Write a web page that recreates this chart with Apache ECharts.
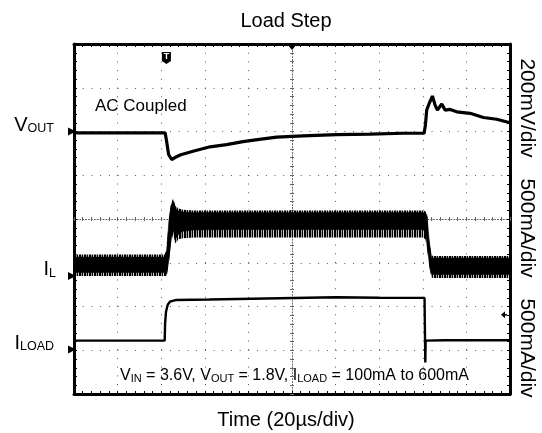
<!DOCTYPE html>
<html><head><meta charset="utf-8">
<script src="https://cdn.jsdelivr.net/npm/echarts@6/dist/echarts.min.js"></script>
<style>html,body{margin:0;padding:0;background:#fff}#c{width:542px;height:433px}</style>
</head><body><div id="c"></div>
<script>
// ---- data (time in µs, 20 µs/div) ----
// VOUT, AC coupled deviation in mV (200 mV/div)
const voutT  = [0, 20, 41.8, 42.4, 43.4, 44.8, 46.5, 49, 54.6, 62.4, 70, 77.5, 85, 93, 105, 120.5, 135.8, 151, 160.6, 161.2, 161.8, 163, 164.4, 165.6, 166.7, 168.7, 170.2, 172.5, 175.6, 181.7, 187.8, 193.9, 200];
const voutMV = [-6, -6, -6, -40, -105, -128, -118, -106, -90, -70, -60, -46, -36, -26, -20, -14, -12, -8, -8, 30, 98, 130, 162, 122, 98, 126, 98, 101, 90, 83, 64, 56, 40];
// Inductor current band in mA (500 mA/div): outer envelope and dense core
const ilT        = [0, 20, 41.6, 42.5, 43.5, 44.5, 45.5, 46.5, 48, 50, 55, 70, 100, 130, 150, 160, 161.2, 162, 163, 164, 165, 170, 185, 200];
const ilHigh     = [245, 245, 245, 300, 650, 820, 890, 800, 770, 755, 748, 748, 748, 748, 748, 748, 740, 700, 400, 232, 228, 228, 228, 228];
const ilLow      = [0, 0, 0, 0, 150, 380, 480, 370, 420, 430, 438, 438, 438, 438, 438, 438, 420, 300, 100, -20, -25, -25, -25, -25];
const ilCoreHigh = [215, 215, 215, 290, 620, 800, 860, 770, 745, 730, 725, 725, 725, 725, 725, 725, 720, 680, 380, 210, 205, 205, 205, 205];
const ilCoreLow  = [40, 40, 40, 20, 180, 420, 520, 420, 480, 510, 525, 530, 530, 530, 530, 530, 500, 360, 140, 20, 15, 15, 15, 15];
// Load current in mA (500 mA/div)
const iloadT  = [0, 20, 41.6, 41.8, 42.2, 43, 44, 47, 62, 94.5, 120, 140, 160.8, 161.0, 161.15, 161.3, 170, 200];
const iloadMA = [100, 100, 100, 300, 430, 510, 545, 565, 570, 585, 595, 590, 588, 588, -150, 100, 105, 105];

// channel settings (divisions / units per division)
const VOUT_OFFSET = 6, IL_OFFSET = 2.7, ILOAD_OFFSET = 1.02;
const VOUT_SCALE = 200, IL_SCALE = 500, ILOAD_SCALE = 500;
const TRIGGER_T = 42.4, TRIGGER_LEVEL = 1.81;

const FONT = '"Liberation Sans", Arial, Helvetica, sans-serif';
const chart = echarts.init(document.getElementById('c'));

function xAx(pos, o) {
  return Object.assign({
    type: 'value', min: 0, max: 200, interval: 20, position: pos, gridIndex: 0,
    axisLine: {show: true, onZero: false, lineStyle: {color: '#000', width: 3}},
    axisTick: {show: true, inside: true, length: 3, lineStyle: {color: '#000', width: 1}},
    minorTick: {show: true, splitNumber: 5, length: 3, lineStyle: {color: '#000', width: 1}},
    axisLabel: {show: false}, splitLine: {show: false}
  }, o || {});
}
function yAx(pos, o) {
  return Object.assign({
    type: 'value', min: 0, max: 8, interval: 1, position: pos, gridIndex: 0,
    axisLine: {show: true, onZero: false, lineStyle: {color: '#000', width: 3}},
    axisTick: {show: true, inside: true, length: 3, lineStyle: {color: '#000', width: 1}},
    minorTick: {show: true, splitNumber: 5, length: 3, lineStyle: {color: '#000', width: 1}},
    axisLabel: {show: false}, splitLine: {show: false}
  }, o || {});
}
const dotted = {show: true, lineStyle: {color: '#555', width: 1, type: [1, 7.72]}};
const centerLine = {show: true, onZero: false, lineStyle: {color: '#666', width: 1, type: [1, 1.9]}};
const cTickIn = {show: true, inside: true, length: 2, lineStyle: {color: '#666', width: 1}};
const cTickOut = {show: true, inside: false, length: 2, lineStyle: {color: '#666', width: 1}};
const cMinor = {show: true, splitNumber: 5, length: 2, lineStyle: {color: '#666', width: 1}};

// stripe pattern for the ripple band
const pc = document.createElement('canvas'); pc.width = 5; pc.height = 4;
const pg = pc.getContext('2d');
pg.fillStyle = '#000'; pg.fillRect(0, 0, 5, 4);
pg.fillStyle = '#9a9a9a'; pg.fillRect(1, 0, 1, 4);
pg.fillStyle = '#cfcfcf'; pg.fillRect(3, 0, 1, 4);

function band(hi, lo, fill) {
  return {
    type: 'custom', xAxisIndex: 0, yAxisIndex: 0, data: [[0, 0]], silent: true, animation: false,
    renderItem: function (params, api) {
      const pts = [];
      for (let i = 0; i < ilT.length; i++) pts.push(api.coord([ilT[i], IL_OFFSET + hi[i] / IL_SCALE]));
      for (let i = ilT.length - 1; i >= 0; i--) pts.push(api.coord([ilT[i], IL_OFFSET + lo[i] / IL_SCALE]));
      return {type: 'polygon', shape: {points: pts}, style: {fill: fill, stroke: fill === '#000' ? '#000' : null, lineWidth: 0.5}};
    }
  };
}

chart.setOption({
  animation: false,
  grid: {left: 74, top: 44, width: 436, height: 350, containLabel: false},
  xAxis: [
    xAx('bottom', {splitLine: dotted}),
    xAx('top'),
    xAx('bottom', {offset: -175, axisLine: centerLine, axisTick: cTickIn, minorTick: cMinor}),
    xAx('bottom', {offset: -175, axisLine: {show: false}, axisTick: cTickOut, minorTick: cMinor})
  ],
  yAxis: [
    yAx('left', {splitLine: dotted}),
    yAx('right'),
    yAx('left', {offset: -218, axisLine: centerLine, axisTick: cTickIn, minorTick: cMinor}),
    yAx('left', {offset: -218, axisLine: {show: false}, axisTick: cTickOut, minorTick: cMinor})
  ],
  series: [
    band(ilHigh, ilLow, {image: pc, repeat: 'repeat'}),
    band(ilCoreHigh, ilCoreLow, '#000'),
    {type: 'line', xAxisIndex: 0, yAxisIndex: 0, symbol: 'none', silent: true,
     data: voutT.map((t, i) => [t, VOUT_OFFSET + voutMV[i] / VOUT_SCALE]),
     lineStyle: {color: '#000', width: 3.2}},
    {type: 'line', xAxisIndex: 0, yAxisIndex: 0, symbol: 'none', silent: true,
     data: iloadT.map((t, i) => [t, ILOAD_OFFSET + iloadMA[i] / ILOAD_SCALE]),
     lineStyle: {color: '#000', width: 2.4}}
  ]
});

// ---- annotations ----
const P = (t, d) => chart.convertToPixel({xAxisIndex: 0, yAxisIndex: 0}, [t, d]);
const g = [];
function txt(x, y, text, size, o) {
  g.push(Object.assign({type: 'text', x: x, y: y, z: 100, silent: true,
    style: Object.assign({text: text, font: size + 'px ' + FONT, fontFamily: FONT, fontSize: size, fill: '#000',
      align: 'center', verticalAlign: 'middle', textAlign: 'center', textVerticalAlign: 'middle'}, (o && o.style) || {})},
    (o && o.el) || {}));
}
txt(286, 21, 'Load Step', 20);
txt(286, 420, 'Time (20µs/div)', 20);
txt(95, 106, 'AC Coupled', 17, {style: {align: 'left', textAlign: 'left'}});
const rich = (m, s) => ({m: {fontSize: m, fontFamily: FONT, verticalAlign: 'bottom', lineHeight: m + 2},
                          s: {fontSize: s, fontFamily: FONT, verticalAlign: 'bottom', lineHeight: s}});
txt(120, 375, '{m|V}{s|IN}{m| = 3.6V, V}{s|OUT}{m| = 1.8V, I}{s|LOAD}{m| = 100mA to 600mA}', 16,
  {style: {align: 'left', textAlign: 'left', rich: rich(16, 11)}});
// channel labels
const pv = P(0, VOUT_OFFSET), pi = P(0, IL_OFFSET), pl = P(0, ILOAD_OFFSET);
txt(54, pv[1] - 7, '{m|V}{s|OUT}', 20, {style: {align: 'right', textAlign: 'right', rich: rich(20, 12.5)}});
txt(56, pi[1] - 7, '{m|I}{s|L}', 20, {style: {align: 'right', textAlign: 'right', rich: rich(20, 12.5)}});
txt(54, pl[1] - 7, '{m|I}{s|LOAD}', 20, {style: {align: 'right', textAlign: 'right', rich: rich(20, 12.5)}});
// right scale labels
[['200mV/div', 108], ['500mA/div', 228], ['500mA/div', 348]].forEach(([s, y]) => {
  txt(527, y, s, 21, {el: {rotation: -Math.PI / 2}});
});
// channel ground markers
[pv, pi, pl].forEach(p => {
  g.push({type: 'polygon', z: 100, silent: true, shape: {points: [[p[0] - 6, p[1] - 4], [p[0] + 2, p[1]], [p[0] - 6, p[1] + 4]]}, style: {fill: '#000'}});
});
// trigger position markers
const pc0 = P(100, 8);
g.push({type: 'polygon', z: 100, silent: true, shape: {points: [[pc0[0] - 5, pc0[1]], [pc0[0] + 5, pc0[1]], [pc0[0], pc0[1] + 6]]}, style: {fill: '#000'}});
const pt = P(TRIGGER_T, 8);
const tx = pt[0], ty = pt[1] + 8;
g.push({type: 'polygon', z: 100, silent: true, shape: {points: [[tx - 4.5, ty], [tx + 4.5, ty], [tx + 4.5, ty + 9], [tx, ty + 12], [tx - 4.5, ty + 9]]}, style: {fill: '#000'}});
g.push({type: 'text', z: 101, silent: true, x: tx, y: ty + 5, style: {text: 'T', font: 'bold 9px ' + FONT, fill: '#fff', align: 'center', verticalAlign: 'middle'}});
// trigger level arrow
const pa = P(200, TRIGGER_LEVEL);
g.push({type: 'polygon', z: 100, silent: true, shape: {points: [[pa[0] - 9, pa[1]], [pa[0] - 5, pa[1] - 3.5], [pa[0] - 5, pa[1] + 3.5]]}, style: {fill: '#000'}});
g.push({type: 'line', z: 100, silent: true, shape: {x1: pa[0] - 6, y1: pa[1], x2: pa[0] - 3, y2: pa[1]}, style: {stroke: '#000', lineWidth: 1.5}});
chart.setOption({graphic: g});
</script></body></html>
